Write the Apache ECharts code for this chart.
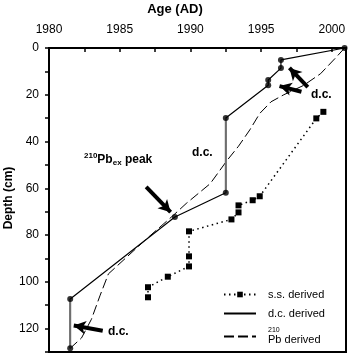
<!DOCTYPE html>
<html>
<head>
<meta charset="utf-8">
<script src="https://cdn.jsdelivr.net/npm/echarts@6/dist/echarts.min.js"></script>
<style>
  html, body { margin: 0; padding: 0; background: #fff; }
  #chart { width: 350px; height: 355px; }
</style>
</head>
<body>
<div id="chart"></div>
<script>
// s.s. derived (dotted, squares)
const ssYear  = [1999.4, 1998.9, 1994.9, 1994.4, 1993.4, 1993.4, 1992.9, 1989.9, 1989.9, 1989.9, 1988.4, 1987.0, 1987.0];
const ssDepth = [27.3, 30.1, 63.4, 65.1, 67.3, 70.3, 73.3, 78.4, 89.1, 93.4, 97.8, 102.3, 106.6];

// d.c. derived (solid, circles)
const dcYear  = [2000.9, 1996.4, 1996.4, 1995.5, 1995.5, 1992.5, 1992.5, 1988.9, 1981.5, 1981.5];
const dcDepth = [0, 5.1, 8.6, 13.7, 15.9, 29.9, 61.9, 72.3, 107.3, 128.4];
// segments drawn grey (dating-correction jumps), as index pairs into dc arrays
const dcJumps = [[5, 6], [8, 9]];

// 210Pb derived (dashed)
const pbYear  = [2000.9, 2000.3, 1999.2, 1998.0, 1996.6, 1995.7, 1994.9, 1994.2, 1993.4, 1992.6, 1991.4, 1989.7, 1988.8, 1986.9, 1985.5, 1984.2, 1983.6, 1983.0, 1982.3, 1981.5];
const pbDepth = [0, 4, 11, 16, 20, 23, 28, 35, 42, 48, 58, 66.5, 71.5, 81.6, 89.4, 96.6, 106, 116, 124, 128.4];

const xTicks = [1980, 1985, 1990, 1995, 2000];
const yTicks = [0, 20, 40, 60, 80, 100, 120];

// annotation arrows [fromYear, fromDepth, toYear, toDepth]
const arrows = [
  [1986.87, 59.4, 1988.6, 70.2],
  [1998.3, 16.7, 1997.0, 8.5],
  [1997.85, 18.7, 1996.3, 16.3],
  [1983.8, 120.9, 1981.75, 118.7]
];

const FONT = 'Liberation Sans';
const zip = (xs, ys) => xs.map((x, i) => [x, ys[i]]);

const chart = echarts.init(document.getElementById('chart'), null, { renderer: 'canvas' });

const option = {
  animation: false,
  textStyle: { fontFamily: FONT },
  grid: {
    left: 49, right: 4, top: 48, bottom: 3,
    show: true, borderColor: '#000', borderWidth: 2, backgroundColor: 'transparent'
  },
  xAxis: {
    type: 'value', position: 'top',
    min: 1980, max: 2001, interval: 5,
    axisLine: { show: true, lineStyle: { color: '#000', width: 2 } },
    axisTick: { show: true, inside: true, length: 4, lineStyle: { color: '#000', width: 1.5 } },
    minorTick: { show: true, splitNumber: 2, length: 4, lineStyle: { color: '#000', width: 1.5 } },
    axisLabel: { customValues: xTicks, formatter: v => String(v), color: '#000', fontSize: 12, fontFamily: FONT, margin: 12 },
    splitLine: { show: false }
  },
  yAxis: {
    type: 'value', inverse: true,
    min: 0, max: 130, interval: 20,
    axisLine: { show: true, lineStyle: { color: '#000', width: 2 } },
    axisTick: { show: true, inside: false, length: 4, lineStyle: { color: '#000', width: 1.5 } },
    minorTick: { show: true, splitNumber: 2, length: 4, lineStyle: { color: '#000', width: 1.5 } },
    axisLabel: { customValues: yTicks, formatter: v => String(v), color: '#000', fontSize: 12, fontFamily: FONT, margin: 10 },
    splitLine: { show: false }
  },
  legend: {
    orient: 'vertical',
    left: 218, top: 284,
    itemWidth: 32, itemHeight: 7, itemGap: 8,
    data: [
      { name: 's.s. derived' },
      { name: 'd.c. derived', itemStyle: { opacity: 0 } },
      { name: '210Pb derived', itemStyle: { opacity: 0 } }
    ],
    formatter: function (name) {
      if (name === '210Pb derived') return '{sup|210}\n{n|Pb derived}';
      return name;
    },
    textStyle: {
      fontSize: 11, color: '#000', fontFamily: FONT, padding: [0, 0, 0, 7],
      rich: {
        sup: { fontSize: 7, lineHeight: 7, color: '#000', fontFamily: FONT },
        n: { fontSize: 11, lineHeight: 12, color: '#000', fontFamily: FONT }
      }
    }
  },
  graphic: [
    { type: 'text', left: 'center', top: 3, style: { text: 'Age (AD)', font: 'bold 13px ' + FONT, fill: '#000' }, x: -6 },
    { type: 'text', x: 3, y: 198, rotation: Math.PI / 2,
      style: { text: 'Depth (cm)', font: 'bold 12px ' + FONT, fill: '#000', align: 'center', verticalAlign: 'top' } },
    { type: 'text', x: 84, y: 152,
      style: {
        text: '{sup|210}{b|Pb}{sub|ex}{b| peak}',
        rich: {
          sup: { font: 'bold 8px ' + FONT, verticalAlign: 'top', lineHeight: 15 },
          b: { font: 'bold 12px ' + FONT, lineHeight: 15 },
          sub: { font: 'bold 8px ' + FONT, verticalAlign: 'bottom', lineHeight: 15 }
        }
      } },
    { type: 'text', x: 192, y: 147, style: { text: 'd.c.', font: 'bold 12px ' + FONT, fill: '#000' } },
    { type: 'text', x: 311, y: 89, style: { text: 'd.c.', font: 'bold 12px ' + FONT, fill: '#000' } },
    { type: 'text', x: 108, y: 326, style: { text: 'd.c.', font: 'bold 12px ' + FONT, fill: '#000' } }
  ],
  series: [
    {
      name: 's.s. derived', type: 'line',
      data: zip(ssYear, ssDepth),
      symbol: 'rect', symbolSize: 6,
      itemStyle: { color: '#000' },
      lineStyle: { color: '#000', width: 1.5, type: [1.5, 3.5] },
      z: 3
    },
    {
      name: 'd.c. derived', type: 'line',
      data: zip(dcYear, dcDepth),
      symbol: 'none',
      lineStyle: { color: '#000', width: 1.2 },
      itemStyle: { color: '#000' },
      z: 3
    },
    {
      name: '210Pb derived', type: 'line',
      data: zip(pbYear, pbDepth),
      symbol: 'none',
      lineStyle: { color: '#000', width: 1, type: [10, 4] },
      itemStyle: { color: '#000' },
      z: 2
    },
    ...dcJumps.map(([a, b]) => ({
      name: 'jump', type: 'line',
      data: [[dcYear[a], dcDepth[a]], [dcYear[b], dcDepth[b]]],
      symbol: 'none',
      lineStyle: { color: '#6e6e6e', width: 2 },
      z: 4
    })),
    {
      name: 'dc points', type: 'scatter',
      data: zip(dcYear, dcDepth),
      symbol: 'circle', symbolSize: 6,
      itemStyle: { color: '#000' },
      z: 5,
      markLine: {
        silent: true,
        symbol: ['none', 'arrow'],
        symbolSize: [10, 12],
        label: { show: false },
        itemStyle: { color: '#000' },
        lineStyle: { color: '#000', width: 4, type: 'solid' },
        data: arrows.map(a => [{ coord: [a[0], a[1]] }, { coord: [a[2], a[3]] }])
      }
    }
  ]
};

chart.setOption(option);
</script>
</body>
</html>
